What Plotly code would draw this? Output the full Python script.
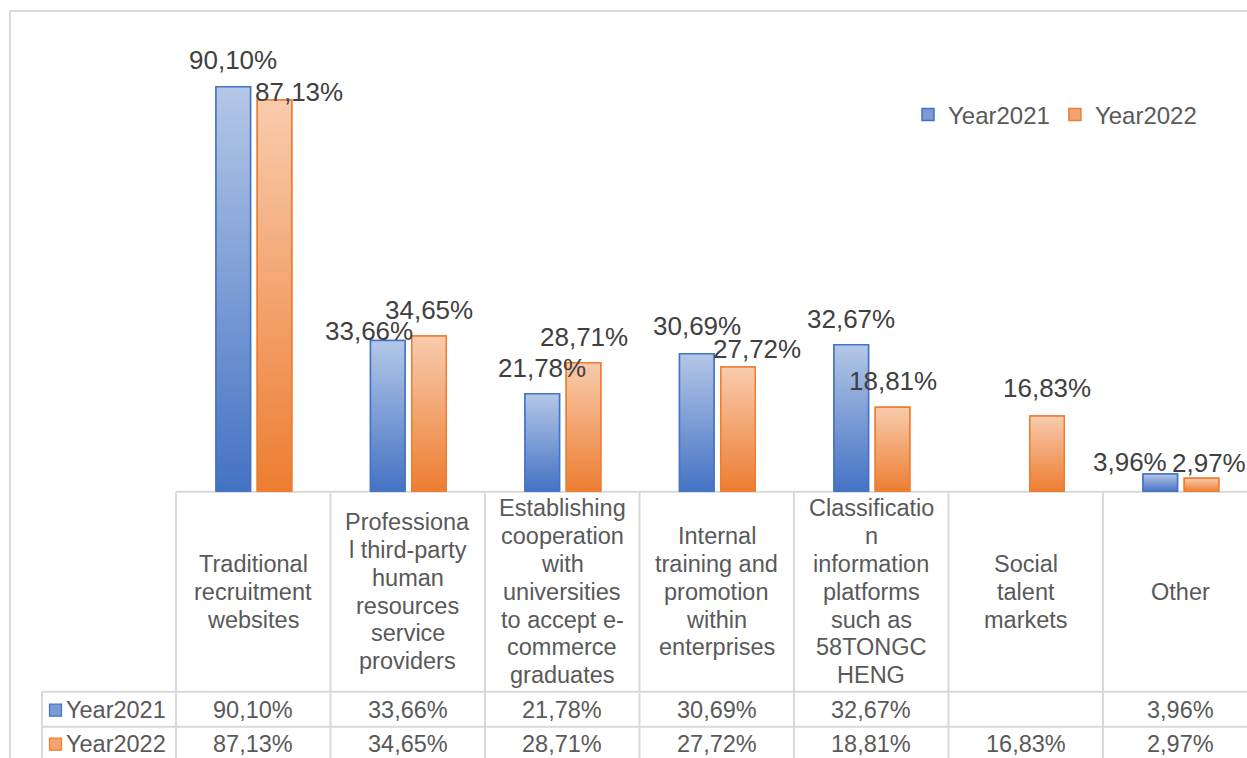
import plotly.graph_objects as go

# ---------------- data ----------------
categories = [
    "Traditional<br>recruitment<br>websites",
    "Professiona<br>l third-party<br>human<br>resources<br>service<br>providers",
    "Establishing<br>cooperation<br>with<br>universities<br>to accept e-<br>commerce<br>graduates",
    "Internal<br>training and<br>promotion<br>within<br>enterprises",
    "Classificatio<br>n<br>information<br>platforms<br>such as<br>58TONGC<br>HENG",
    "Social<br>talent<br>markets",
    "Other",
]
series_names = ["Year2021", "Year2022"]
year2021 = [90.10, 33.66, 21.78, 30.69, 32.67, None, 3.96]
year2022 = [87.13, 34.65, 28.71, 27.72, 18.81, 16.83, 2.97]

# ---------------- styling / layout constants ----------------
PAGE_W, PAGE_H = 1247, 758
BODY_OFF = 0                      # body margin removed via post_script
W, H = PAGE_W - BODY_OFF, PAGE_H - BODY_OFF
FONT = "Arial, Liberation Sans, sans-serif"
LABEL_COLOR = "#404040"
TEXT_COLOR = "#595959"
GRID_COLOR = "#D9D9D9"

DARK = ["#4472C4", "#ED7D31"]
LIGHT = ["#B4C7E7", "#F8CBAD"]
MID = ["#7C9BD6", "#F3A36F"]

# all pixel constants below are page pixels
DOM_L_PX = 176.0       # left edge of first category column
COL_PX = 154.5         # category column width in px
BASE_PX = 491.7        # y pixel of value 0
TOP_PX = 20.0
PX_PER_UNIT = 4.495
XR0 = -0.5
XR1 = XR0 + (PAGE_W - DOM_L_PX) / COL_PX
YMAX = (BASE_PX - TOP_PX) / PX_PER_UNIT

BAR_W = 34.5 / COL_PX
OFFS = [-37.25 / COL_PX, 4.0 / COL_PX]

# per-label manual nudges (px): (dx, lift above bar top)
LABEL_DX = [[0, -19, 0, 0, 0, 0, -30], [24, 0, 0, 19, 0, 0, 7]]
LABEL_UP = [[27, 9, 26, 28, 26, 0, 12], [8, 26, 26, 18, 26, 28, 15]]

HEADER_BOTTOM_PX = 691.7
ROW1_BOTTOM_PX = 726.7
ROWLABEL_LEFT_PX = 42.0


def px(x):
    return (x - BODY_OFF) / W


def py(y):
    return 1 - (y - BODY_OFF) / H


def xdata_to_px(xv):
    return DOM_L_PX + (xv - XR0) * COL_PX


def fmt(v):
    return ("%.2f" % v).replace(".", ",") + "%"


series = [year2021, year2022]
n_cat = len(categories)
xs = list(range(n_cat))

fig = go.Figure()

# bars (data + legend)
for s, vals in enumerate(series):
    fig.add_trace(go.Bar(
        x=xs, y=vals, name=series_names[s],
        width=BAR_W, offset=OFFS[s],
        marker=dict(color=MID[s], line=dict(color=DARK[s], width=1.5)),
        hoverinfo="skip",
    ))

# gradient fill overlay for each bar, derived from the same data
for s, vals in enumerate(series):
    for i, v in enumerate(vals):
        if v is None:
            continue
        x0 = xs[i] + OFFS[s]
        x1 = x0 + BAR_W
        fig.add_trace(go.Scatter(
            x=[x0, x0, x1, x1, x0], y=[0, v, v, 0, 0],
            mode="lines", fill="toself",
            fillgradient=dict(type="vertical",
                              colorscale=[[0, DARK[s]], [1, LIGHT[s]]]),
            line=dict(color=DARK[s], width=1.5),
            hoverinfo="skip", showlegend=False,
        ))

annotations = []
# data labels
for s, vals in enumerate(series):
    for i, v in enumerate(vals):
        if v is None:
            continue
        annotations.append(dict(
            x=xs[i] + OFFS[s] + BAR_W / 2, y=v, xref="x", yref="y",
            text=fmt(v), showarrow=False, xanchor="center", yanchor="middle",
            xshift=LABEL_DX[s][i], yshift=LABEL_UP[s][i],
            font=dict(family=FONT, size=26, color=LABEL_COLOR),
        ))

# table header (category names), one annotation per line
LINE_PX = 27.8
header_mid = (BASE_PX + HEADER_BOTTOM_PX) / 2
for i, cat in enumerate(categories):
    lines = cat.split("<br>")
    n = len(lines)
    for j, line in enumerate(lines):
        yc = header_mid + (j - (n - 1) / 2) * LINE_PX
        annotations.append(dict(
            x=xs[i], y=py(yc), xref="x", yref="paper", text=line,
            showarrow=False, xanchor="center", yanchor="middle",
            font=dict(family=FONT, size=23.5, color=TEXT_COLOR),
        ))

# table value rows
row_centers = [(HEADER_BOTTOM_PX + ROW1_BOTTOM_PX) / 2 + 1,
               ROW1_BOTTOM_PX + 17.5]
for s, vals in enumerate(series):
    for i, v in enumerate(vals):
        if v is None:
            continue
        annotations.append(dict(
            x=xs[i], y=py(row_centers[s]), xref="x", yref="paper",
            text=fmt(v), showarrow=False, xanchor="center", yanchor="middle",
            font=dict(family=FONT, size=23.5, color=TEXT_COLOR),
        ))
    # row label
    annotations.append(dict(
        x=px(63.5), y=py(row_centers[s]), xref="paper", yref="paper",
        text=series_names[s], showarrow=False, xanchor="left", yanchor="middle",
        font=dict(family=FONT, size=23.5, color=TEXT_COLOR),
    ))

shapes = []


def hline(y, x0, x1, w=2):
    shapes.append(dict(type="line", xref="paper", yref="paper",
                       x0=px(x0), x1=px(x1), y0=py(y), y1=py(y),
                       line=dict(color=GRID_COLOR, width=w), layer="below"))


def vline(x, y0, y1, w=2):
    shapes.append(dict(type="line", xref="paper", yref="paper",
                       x0=px(x), x1=px(x), y0=py(y0), y1=py(y1),
                       line=dict(color=GRID_COLOR, width=w), layer="below"))


# outer chart border
vline(10, 11, PAGE_H + 20)
hline(11, 10, PAGE_W + 20)
# table grid
hline(BASE_PX, DOM_L_PX, PAGE_W + 20)
hline(HEADER_BOTTOM_PX, ROWLABEL_LEFT_PX, PAGE_W + 20)
hline(ROW1_BOTTOM_PX, ROWLABEL_LEFT_PX, PAGE_W + 20)
vline(ROWLABEL_LEFT_PX, HEADER_BOTTOM_PX, PAGE_H + 20)
for k in range(n_cat + 1):
    vline(xdata_to_px(k - 0.5), BASE_PX, PAGE_H + 20)

# legend keys inside table rows
for s in range(2):
    yc = row_centers[s]
    shapes.append(dict(type="rect", xref="paper", yref="paper",
                       x0=px(49.5), x1=px(61.5), y0=py(yc - 6), y1=py(yc + 6),
                       fillcolor=MID[s], line=dict(color=DARK[s], width=1.2)))

fig.update_layout(
    width=W, height=H,
    margin=dict(l=0, r=0, t=0, b=0),
    paper_bgcolor="white", plot_bgcolor="rgba(0,0,0,0)",
    barmode="overlay",
    xaxis=dict(domain=[px(DOM_L_PX), 1], range=[XR0, XR1],
               showgrid=False, zeroline=False, showline=False,
               showticklabels=False, ticks="", fixedrange=True),
    yaxis=dict(domain=[py(BASE_PX), py(TOP_PX)], range=[0, YMAX],
               showgrid=False, zeroline=False, showline=False,
               showticklabels=False, ticks="", fixedrange=True),
    legend=dict(orientation="h", x=px(908), xanchor="left",
                y=py(115), yanchor="middle",
                bgcolor="rgba(0,0,0,0)",
                font=dict(family=FONT, size=24, color=TEXT_COLOR),
                itemclick=False, itemdoubleclick=False),
    annotations=annotations,
    shapes=shapes,
    showlegend=True,
)

fig.write_html(
    "out.html",
    config={"displayModeBar": False},
    post_script="document.body.style.margin='0';document.body.style.overflow='hidden';",
)
